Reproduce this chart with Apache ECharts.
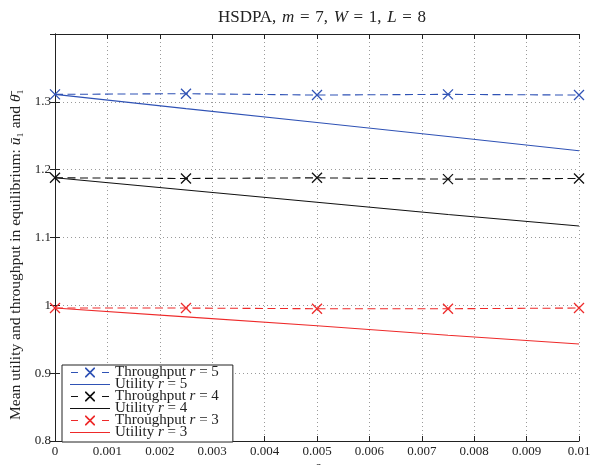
<!DOCTYPE html>
<html>
<head>
<meta charset="utf-8">
<script src="https://cdn.jsdelivr.net/npm/echarts@6/dist/echarts.min.js"></script>
<style>html,body{margin:0;padding:0;background:#fff}#c{width:591px;height:465px}</style>
</head>
<body>
<div id="c"></div>
<script>
var deltas = [0, 0.0025, 0.005, 0.0075, 0.01];
var xTicks = [0, 0.001, 0.002, 0.003, 0.004, 0.005, 0.006, 0.007, 0.008, 0.009, 0.01];
var yTicks = [0.8, 0.9, 1, 1.1, 1.2, 1.3];
var thr5 = [1.311, 1.312, 1.310, 1.311, 1.310];
var util5 = [1.311, 1.290, 1.2695, 1.249, 1.228];
var thr4 = [1.188, 1.187, 1.188, 1.186, 1.187];
var util4 = [1.188, 1.170, 1.152, 1.134, 1.117];
var thr3 = [0.996, 0.996, 0.995, 0.995, 0.996];
var util3 = [0.996, 0.983, 0.970, 0.956, 0.943];

var BLUE = '#2f52b5', BLACK = '#111111', RED = '#ee2a2a';
var FONT = 'Liberation Serif';
var cross = 'path://M0,0L10,10M10,0L0,10';
var SPECK = 'M0,0L0.01,0L0,0.01Z M40,10L39.99,10L40,9.99Z ';
var iconThr = 'path://' + SPECK +
  'M1,4.4L8,4.4L8,5.6L1,5.6Z ' +
  'M15,0L16.2,0L25,8.8L25,10L23.8,10L15,1.2Z ' +
  'M25,0L25,1.2L16.2,10L15,10L15,8.8L23.8,0Z ' +
  'M32,4.4L39,4.4L39,5.6L32,5.6Z';
var iconUtil = 'path://' + SPECK + 'M0,4.45L40,4.45L40,5.55L0,5.55Z';

function pairs(ys){ return deltas.map(function(d,i){return [d, ys[i]];}); }
function thrSeries(name, ys, color){
  return {name:name, type:'line', data:pairs(ys), symbol:cross, symbolSize:10,
    itemStyle:{color:'none', borderColor:color, borderWidth:1.3},
    lineStyle:{color:color, width:1.1, type:[8,4.5]}, emphasis:{disabled:true}, z:3};
}
function utilSeries(name, ys, color){
  return {name:name, type:'line', data:pairs(ys), symbol:'none', showSymbol:false,
    itemStyle:{color:color}, lineStyle:{color:color, width:1.1}, emphasis:{disabled:true}, z:2};
}
function leg(name, icon, color){
  return {name:name, icon:icon, itemStyle:{color:color, borderWidth:0, borderColor:color}};
}
var SP = '\u2004';
var chart = echarts.init(document.getElementById('c'), null, {renderer:'canvas'});
var axisLine = {show:true, lineStyle:{color:'#222', width:1}};
var split = {show:true, lineStyle:{color:'#9a9a9a', type:[1,3], width:1}};
var tick = {show:true, inside:true, length:5, lineStyle:{color:'#222'}};
chart.setOption({
  animation:false,
  backgroundColor:'#fff',
  title:{
    text:'HSDPA,' + SP + '{i|m}' + SP + '=' + SP + '7,' + SP + '{i|W}' + SP + '=' + SP + '1,' + SP + '{i|L}' + SP + '=' + SP + '8',
    left:317, textAlign:'center', top:4,
    textStyle:{fontFamily:FONT, fontSize:17, fontWeight:'normal', color:'#222',
      rich:{i:{fontFamily:FONT, fontStyle:'italic', fontSize:17, color:'#222'}}}
  },
  grid:{left:55, right:12, top:34, bottom:24, containLabel:false, outerBoundsMode:'none'},
  legend:{
    orient:'vertical', left:62, top:365, itemGap:-3, itemWidth:40, itemHeight:10,
    padding:[0,14,2,8], borderColor:'#222', borderWidth:1, backgroundColor:'#fff',
    selectedMode:false,
    textStyle:{fontFamily:FONT, fontSize:15, color:'#222',
      rich:{i:{fontFamily:FONT, fontStyle:'italic', fontSize:15, color:'#222'}}},
    formatter:function(n){ return n.replace(' r ', ' {i|r} '); },
    data:[leg('Throughput r = 5', iconThr, BLUE), leg('Utility r = 5', iconUtil, BLUE),
          leg('Throughput r = 4', iconThr, BLACK), leg('Utility r = 4', iconUtil, BLACK),
          leg('Throughput r = 3', iconThr, RED), leg('Utility r = 3', iconUtil, RED)]
  },
  xAxis:[{
    type:'value', min:0, max:0.01, interval:0.001, position:'bottom',
    name:'δ', nameLocation:'middle', nameGap:12,
    nameTextStyle:{fontFamily:FONT, fontStyle:'italic', fontSize:14, color:'#222'},
    axisLine:axisLine, axisTick:tick,
    axisLabel:{fontFamily:FONT, fontSize:13, color:'#222', margin:4,
      formatter:function(v){ return String(+v.toFixed(3)); }},
    splitLine:split
  },{
    type:'value', min:0, max:0.01, interval:0.001, position:'top',
    axisLine:axisLine, axisTick:tick,
    axisLabel:{show:false}, splitLine:{show:false}
  }],
  yAxis:[{
    type:'value', min:0.8, max:1.4, interval:0.1, position:'left',
    name:'Mean utility and throughput in equilibrium: {i|ū}₁ and {i|θ̄}₁',
    nameLocation:'middle', nameGap:31,
    nameTextStyle:{fontFamily:FONT, fontSize:15.5, color:'#222', padding:[0,34,0,0],
      rich:{i:{fontFamily:FONT, fontStyle:'italic', fontSize:15.5, color:'#222'}}},
    axisLine:axisLine, axisTick:tick,
    axisLabel:{fontFamily:FONT, fontSize:13, color:'#222', margin:4,
      formatter:function(v){ if (v > 1.35) return ''; return String(+v.toFixed(2)); }},
    splitLine:split
  },{
    type:'value', min:0.8, max:1.4, interval:0.1, position:'right',
    axisLine:axisLine, axisTick:tick,
    axisLabel:{show:false}, splitLine:{show:false}
  }],
  series:[
    thrSeries('Throughput r = 5', thr5, BLUE),
    utilSeries('Utility r = 5', util5, BLUE),
    thrSeries('Throughput r = 4', thr4, BLACK),
    utilSeries('Utility r = 4', util4, BLACK),
    thrSeries('Throughput r = 3', thr3, RED),
    utilSeries('Utility r = 3', util3, RED)
  ]
});
</script>
</body>
</html>
